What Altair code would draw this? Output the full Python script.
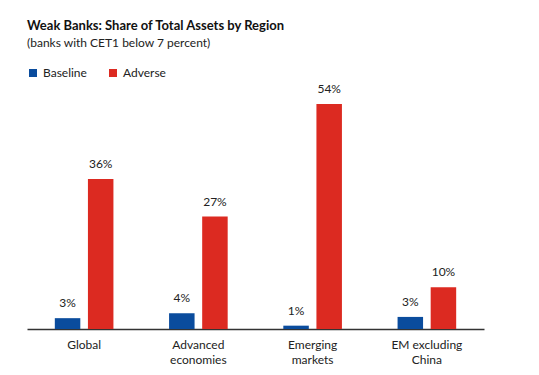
import altair as alt
import pandas as pd

regions = ["Global", "Advanced|economies", "Emerging|markets", "EM excluding|China"]
series = ["Baseline", "Adverse"]
baseline = [2.6, 3.8, 0.8, 2.9]
adverse = [36, 27, 54, 10]
baseline_labels = ["3%", "4%", "1%", "3%"]
adverse_labels = ["36%", "27%", "54%", "10%"]

rows = []
for i, r in enumerate(regions):
    rows.append({"region": r, "series": "Baseline", "value": baseline[i], "label": baseline_labels[i]})
    rows.append({"region": r, "series": "Adverse", "value": adverse[i], "label": adverse_labels[i]})
df = pd.DataFrame(rows)

FONT = "Lato"
BLUE = "#0a4c9d"
RED = "#dc2a21"

base = alt.Chart(df).encode(
    x=alt.X("region:N", sort=regions,
            scale=alt.Scale(paddingInner=0, paddingOuter=0),
            axis=alt.Axis(title=None, labelAngle=0, ticks=False, labelPadding=10,
                          labelFontSize=12, labelColor="#222", labelFont=FONT,
                          labelLineHeight=15, domainColor="#333", domainWidth=1.3,
                          labelExpr="split(datum.label, '|')")),
    xOffset=alt.XOffset("series:N", sort=series,
                        scale=alt.Scale(paddingInner=0.23, paddingOuter=0.84)),
    y=alt.Y("value:Q", scale=alt.Scale(domain=[0, 60]), axis=None),
)

bars = base.mark_bar().encode(
    color=alt.Color("series:N", sort=series,
                    scale=alt.Scale(domain=series, range=[BLUE, RED]),
                    legend=alt.Legend(title=None, orient="none", legendX=0, legendY=-12,
                                      direction="horizontal", symbolType="square",
                                      symbolSize=64, symbolStrokeWidth=0,
                                      labelFontSize=12, labelFont=FONT, labelColor="#222",
                                      columnPadding=20, labelOffset=4))
)

text = base.mark_text(baseline="bottom", dy=-8, fontSize=12, font=FONT, color="#222").encode(
    text="label:N"
)

chart = alt.layer(bars, text).properties(
    width=457,
    height=250,
    padding={"left": 27, "top": 79, "right": 55, "bottom": 46},
    autosize=alt.AutoSizeParams(type="none"),
    title=alt.TitleParams(
        text="Weak Banks: Share of Total Assets by Region",
        subtitle="(banks with CET1 below 7 percent)",
        anchor="start", frame="group", offset=18,
        font=FONT, fontSize=13, fontWeight="bold", color="#111",
        subtitleFont=FONT, subtitleFontSize=12, subtitleColor="#222", subtitlePadding=5,
    ),
).configure_view(stroke=None)

chart.save("out.html", embed_options={"renderer": "svg", "actions": False})
